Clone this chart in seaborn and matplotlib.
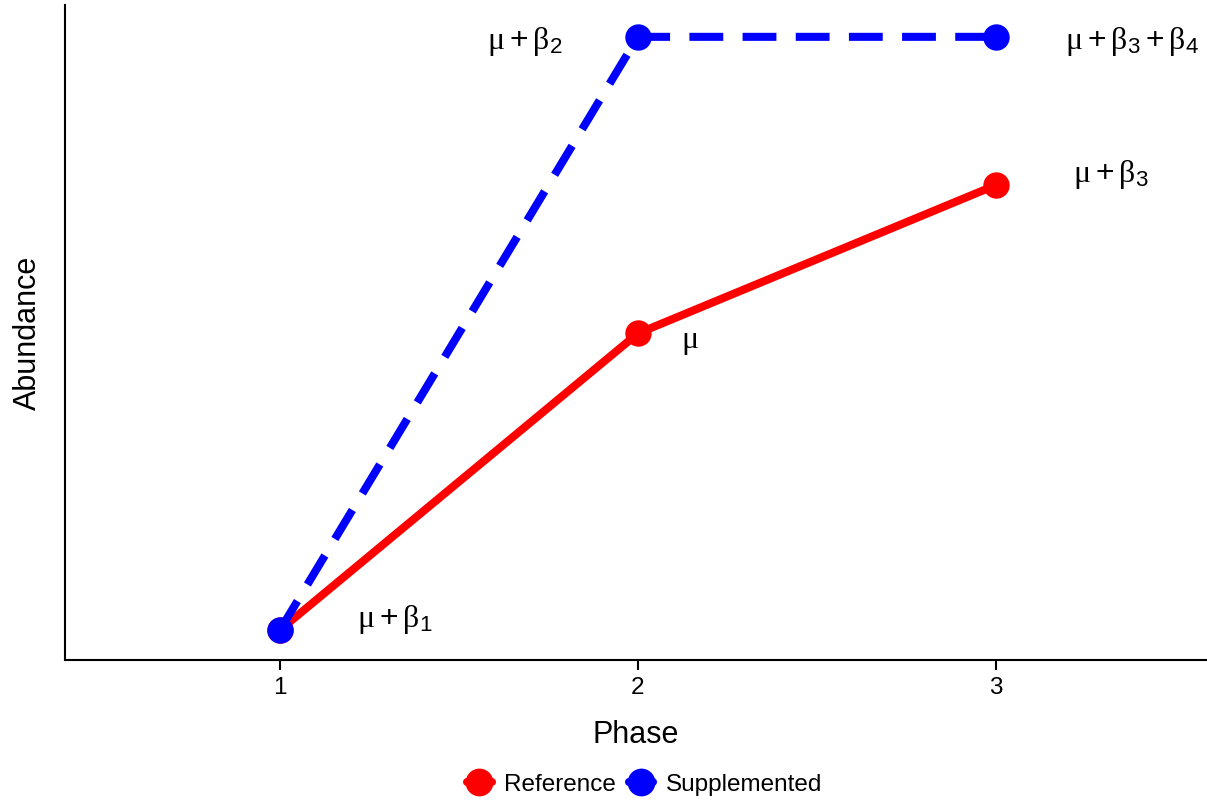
import matplotlib
matplotlib.use("Agg")
import matplotlib.pyplot as plt
from matplotlib.lines import Line2D
import seaborn as sns
import pandas as pd

# ---- data ----
phases = [1, 2, 3]
reference = [0, 50, 75]
supplemented = [0, 100, 100]
groups = ["Reference", "Supplemented"]
colors = {"Reference": "#FF0000", "Supplemented": "#0000FF"}

label_texts = [r"$\mu+\beta_1$", r"$\mu+\beta_2$", r"$\mu$", r"$\mu+\beta_3$", r"$\mu+\beta_3+\beta_4$"]
label_x = [1.32, 1.685, 2.145, 3.32, 3.38]
label_y = [1.7, 99.2, 48.5, 76.8, 99.2]

df = pd.DataFrame({
    "Phase": phases * 2,
    "Abundance": reference + supplemented,
    "Group": ["Reference"] * 3 + ["Supplemented"] * 3,
})

sns.set_theme(style="ticks")
plt.rcParams["font.family"] = ["Liberation Sans", "DejaVu Sans"]
plt.rcParams["mathtext.fontset"] = "custom"
plt.rcParams["mathtext.rm"] = "Liberation Sans"
plt.rcParams["mathtext.it"] = "Liberation Serif"
plt.rcParams["mathtext.bf"] = "Liberation Sans:bold"
plt.rcParams["text.color"] = "black"
plt.rcParams["axes.labelcolor"] = "black"
plt.rcParams["xtick.color"] = "black"
plt.rcParams["xtick.labelcolor"] = "black"

fig = plt.figure(figsize=(12.07, 8.01), dpi=100)
ax = fig.add_axes([0.054, 0.176, 0.946, 0.818])

sns.lineplot(
    data=df, x="Phase", y="Abundance", hue="Group", style="Group",
    hue_order=groups, style_order=groups, palette=colors,
    dashes={"Reference": "", "Supplemented": (4.2, 2.4)},
    markers={"Reference": "o", "Supplemented": "o"},
    linewidth=5.8, markersize=19, markeredgewidth=0, ax=ax,
)

for t, x, y in zip(label_texts, label_x, label_y):
    ax.text(x, y, t, fontsize=23, ha="center", va="center", color="black")

ax.set_xlim(0.4, 3.59)
ax.set_ylim(-5.06, 105.4)
ax.set_xticks(phases)
ax.set_xticklabels([str(p) for p in phases], fontsize=17.5)
ax.set_yticks([])
ax.set_xlabel("Phase", fontsize=22, labelpad=15)
ax.set_ylabel("Abundance", fontsize=22, labelpad=16)
ax.tick_params(axis="x", length=7, width=1.5, color="black", labelcolor="black", pad=5)
for side in ["top", "right"]:
    ax.spines[side].set_visible(False)
for side in ["left", "bottom"]:
    ax.spines[side].set_linewidth(1.5)
    ax.spines[side].set_color("black")

ax.get_legend().remove()
leg_handles = [Line2D([], [], color=colors[g], lw=5.8, marker="o", markersize=20,
                      markeredgewidth=0) for g in groups]
fig.legend(leg_handles, groups, loc="center", bbox_to_anchor=(0.534, 0.02),
           ncol=2, frameon=False, fontsize=17.5, handlelength=1.0,
           columnspacing=0.55, handletextpad=0.5)

fig.savefig("out.png", dpi=100)
